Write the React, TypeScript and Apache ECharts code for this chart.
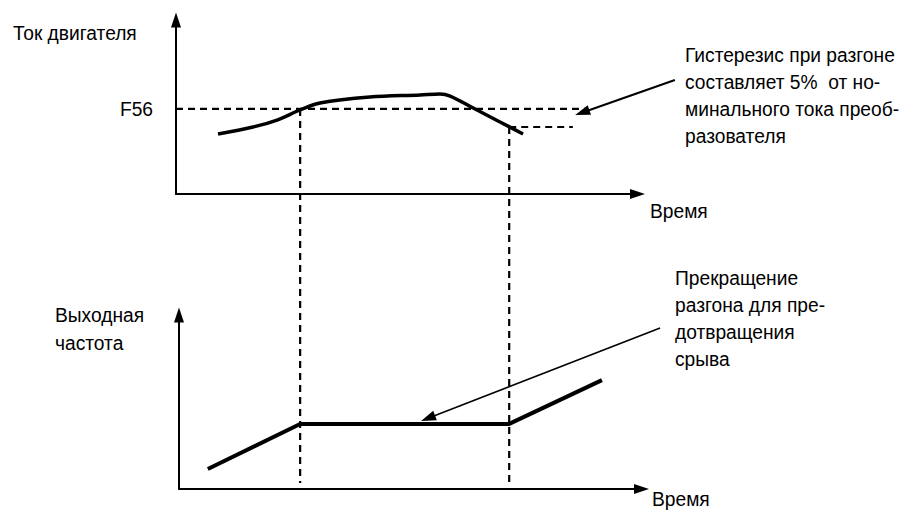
import React, { useEffect, useRef } from 'react';
import * as echarts from 'echarts';

// ---- data (time in % of the axis, values in % of the axis height) ----
const motorCurrent: [number, number][] = [
  [9.1, 34.5], [16.7, 38.5], [21.9, 42.5], [26.9, 48.3], [31.2, 52.3], [42.0, 55.7],
  [52.9, 56.9], [57.2, 57.5], [59.4, 56.3], [64.4, 49.4], [70.2, 41.4], [75.2, 34.5],
];
const outputFreq: [number, number][] = [[6.9, 11.5], [26.9, 37.4], [72.2, 37.4], [92.3, 62.6]];
const F56_LEVEL = 48.9;
const HYST_LEVEL = 38.5;
const STALL_START = 26.9;
const STALL_END = 72.2;
const F56_LINE_END = 88.6;
const HYST_LINE_END = 86.0;
const GUIDE_BOTTOM = 3.4;
const F56_LABEL = 'F56';
const currentTitle = 'Ток двигателя';
const freqTitle = ['Выходная', 'частота'];
const timeTitle = 'Время';
const noteHyst = ['Гистерезис при разгоне', 'составляет 5%  от но-', 'минального тока преоб-', 'разователя'];
const noteStop = ['Прекращение', 'разгона для пре-', 'дотвращения', 'срыва'];
const hystArrow = { from: [108.1, 65.5], to: [86.5, 45.4] };
const stopArrow = { from: [104.9, 92.5], to: [53.1, 39.1] };

const FONT = '"Liberation Sans", Arial, sans-serif';
const FS = 20;
const SX = 0.96;

function axisBase(extra: any) {
  return {
    type: 'value',
    axisLine: {
      show: true,
      onZero: false,
      lineStyle: { color: '#000', width: 2 },
      symbol: ['none', 'triangle'],
      symbolSize: [10, 15],
    },
    axisTick: { show: false },
    axisLabel: { show: false },
    splitLine: { show: false },
    ...extra,
  };
}

export default function App() {
  const ref = useRef<HTMLDivElement>(null);
  useEffect(() => {
    if (!ref.current) return;
    const chart = echarts.init(ref.current, undefined, { renderer: 'svg' });
    const option: any = {
      animation: false,
      backgroundColor: '#fff',
      grid: [
        { left: 176, top: 20, width: 461.5, height: 174 },
        { left: 179, top: 315, width: 462.5, height: 174 },
      ],
      xAxis: [
        axisBase({ gridIndex: 0, min: 0, max: 100 }),
        axisBase({ gridIndex: 1, min: 0.65, max: 100.87 }),
      ],
      yAxis: [
        axisBase({ gridIndex: 0, min: 0, max: 100 }),
        axisBase({ gridIndex: 1, min: 0, max: 100 }),
      ],
      series: [
        {
          type: 'line', xAxisIndex: 0, yAxisIndex: 0, symbol: 'none',
          data: [[0, F56_LEVEL], [F56_LINE_END, F56_LEVEL]],
          lineStyle: { color: '#000', width: 2.2, type: [7, 5] }, z: 1,
        },
        {
          type: 'line', xAxisIndex: 0, yAxisIndex: 0, symbol: 'none',
          data: [[STALL_END, HYST_LEVEL], [HYST_LINE_END, HYST_LEVEL]],
          lineStyle: { color: '#000', width: 2.2, type: [7, 5] }, z: 1,
        },
        {
          type: 'line', xAxisIndex: 0, yAxisIndex: 0, symbol: 'none', smooth: 0.35,
          data: motorCurrent, lineStyle: { color: '#000', width: 3.5 }, z: 3,
        },
        {
          type: 'line', xAxisIndex: 1, yAxisIndex: 1, symbol: 'none',
          data: outputFreq, lineStyle: { color: '#000', width: 4 }, z: 3,
        },
      ],
    };
    chart.setOption(option);

    const px = (g: number, pt: number[]) => chart.convertToPixel({ gridIndex: g } as any, pt) as number[];
    const arrow = (g: number, a: { from: number[]; to: number[] }, lw: number) => {
      const s = px(g, a.from);
      const t = px(g, a.to);
      const dx = t[0] - s[0], dy = t[1] - s[1];
      const L = Math.hypot(dx, dy);
      const ux = dx / L, uy = dy / L;
      const len = 15, w = 5;
      const bx = t[0] - ux * len, by = t[1] - uy * len;
      return [
        { type: 'line', z: 10, shape: { x1: s[0], y1: s[1], x2: bx + ux * 2, y2: by + uy * 2 }, style: { stroke: '#000', lineWidth: lw } },
        {
          type: 'polygon', z: 10,
          shape: { points: [[t[0], t[1]], [bx - uy * w, by + ux * w], [bx + uy * w, by - ux * w]] },
          style: { fill: '#000' },
        },
      ];
    };
    const guide = (t: number, topLevel: number) => {
      const a = px(0, [t, topLevel]);
      const b = px(1, [t, GUIDE_BOTTOM]);
      return { type: 'line', z: 2, shape: { x1: a[0], y1: a[1], x2: b[0], y2: b[1] }, style: { stroke: '#000', lineWidth: 2.2, lineDash: [7, 5] } };
    };
    const text = (x: number, y: number, lines: string[], lh: number, align = 'left', va = 'top') => ({
      type: 'text', x, y, z: 10, scaleX: SX,
      style: { text: lines.join('\n'), fontFamily: FONT, fontSize: FS, fill: '#000', lineHeight: lh, verticalAlign: va, align },
    });
    const topEnd = px(0, [100, 0]);
    const botEnd = px(1, [100.87, 0]);
    const f56 = px(0, [0, F56_LEVEL]);
    chart.setOption({
      graphic: [
        guide(STALL_START, F56_LEVEL),
        guide(STALL_END, HYST_LEVEL),
        ...arrow(0, hystArrow, 2),
        ...arrow(1, stopArrow, 1.5),
        text(13, 20, [currentTitle], 26),
        text(55, 301, freqTitle, 28),
        text(685, 42, noteHyst, 26.7),
        text(675, 264.5, noteStop, 27),
        text(topEnd[0] + 12.5, topEnd[1] + 17, [timeTitle], 26, 'left', 'middle'),
        text(botEnd[0] + 10.5, botEnd[1] + 10, [timeTitle], 26, 'left', 'middle'),
        text(f56[0] - 23, f56[1], [F56_LABEL], 26, 'right', 'middle'),
      ],
    });
    return () => chart.dispose();
  }, []);
  return <div ref={ref} style={{ position: 'fixed', left: 0, top: 0, width: 906, height: 510 }} />;
}
